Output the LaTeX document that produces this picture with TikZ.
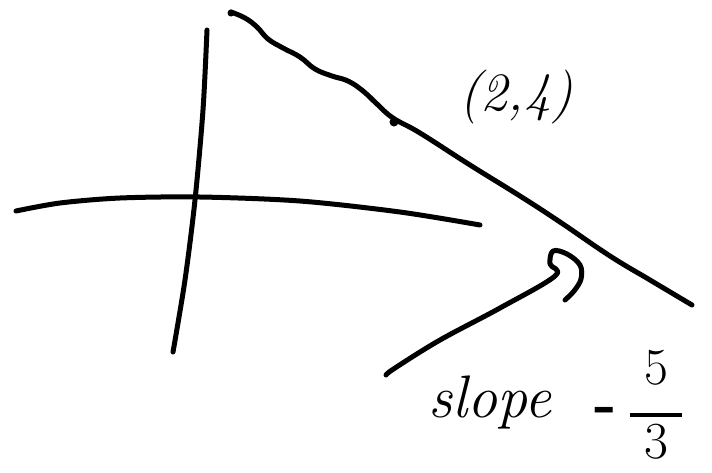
\documentclass[tikz,border=0pt]{standalone}
\begin{document}
\begin{tikzpicture}[x=1pt,y=-1pt,
  ink/.style={line width=5pt,line cap=round,line join=round,black},
  hand/.style={font=\fontsize{54}{54}\selectfont\itshape}]
\useasboundingbox (0,0) rectangle (712,472);
% vertical axis
\draw[ink] plot[smooth] coordinates {(207,30) (203,110) (195,200) (185,280) (173,352)};
% horizontal axis
\draw[ink] plot[smooth] coordinates {(16,211) (60,203) (120,198) (200,197) (300,201) (400,212) (480,225)};
% the line
\draw[ink] plot[smooth,tension=0.7] coordinates {(231,12) (245,18) (257,27) (268,39) (283,48) (300,57) (315,69) (332,76) (348,81) (363,91) (377,104) (393,118) (420,133) (470,165) (520,196) (560,222) (610,256) (650,280) (692,305)};
% marked point
\coordinate (P) at (394,122);
\fill (P) circle (4.5pt);
\fill (231,13) circle (3.5pt);
% arrow to the line
\draw[ink] plot[smooth,tension=0.6] coordinates {(386,375) (395,368) (440,340) (500,308) (555,276) (550,264) (553,251) (567,254) (580,265) (581,279) (574,291) (565,300)};
% labels
\node[hand] (pt) at (516,97) {(2,4)};
\node[hand,font=\fontsize{60}{60}\selectfont\itshape] (sl) at (490,402) {slope};
\node[font=\fontsize{60}{60}\selectfont\bfseries] (mn) at (606,415) {-};
\node[font=\fontsize{52}{46}\selectfont,align=center,inner sep=0pt] (fr) at (656,405) {5\\[-14pt]\rule{52pt}{4pt}\\[-4pt]3};
\end{tikzpicture}
\end{document}
